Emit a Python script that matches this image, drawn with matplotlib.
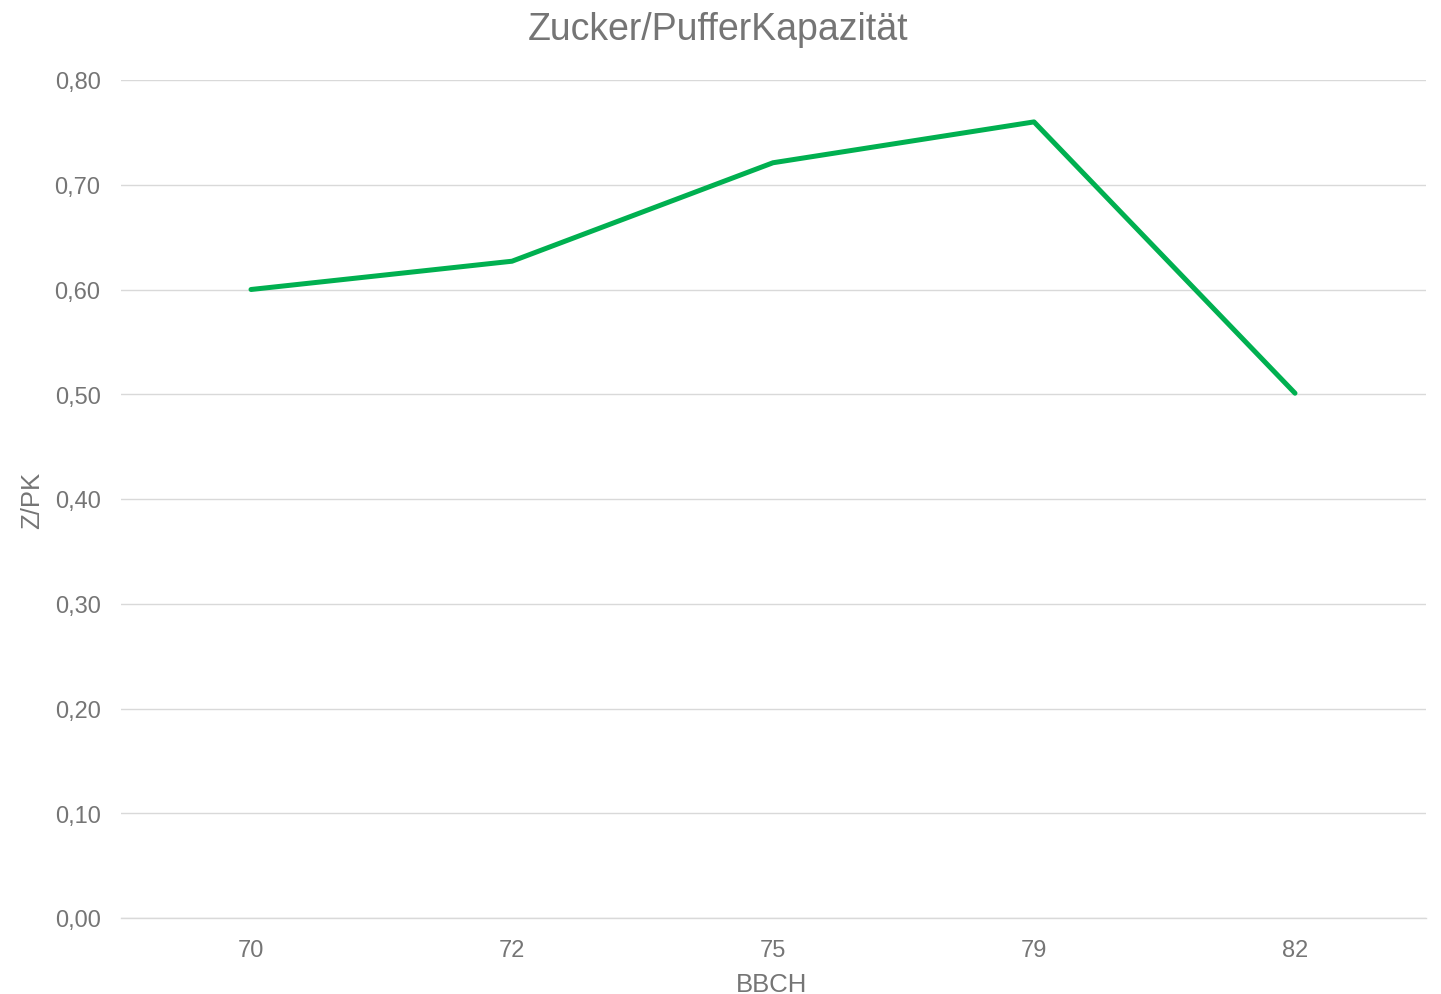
import matplotlib
matplotlib.use("Agg")
import matplotlib.pyplot as plt
from matplotlib.ticker import FuncFormatter

categories = ["70", "72", "75", "79", "82"]
values = [0.60, 0.627, 0.721, 0.760, 0.501]
yticks = [0.0, 0.1, 0.2, 0.3, 0.4, 0.5, 0.6, 0.7, 0.8]

plt.rcParams['font.family'] = ['Liberation Sans', 'DejaVu Sans']
gray = '#757575'

fig = plt.figure(figsize=(14.41, 9.95), dpi=100)
ax = fig.add_axes([120.5/1441, 1-919/995, (1425.5-120.5)/1441, (919-81)/995])

x = list(range(len(categories)))
ax.plot(x, values, color='#00B050', linewidth=3.6, solid_capstyle='round', solid_joinstyle='round', zorder=3)

ax.set_xlim(-0.5, len(categories)-0.5)
ax.set_ylim(0, 0.8)
ax.set_yticks(yticks)
ax.yaxis.set_major_formatter(FuncFormatter(lambda v, p: f"{v:.2f}".replace('.', ',')))
ax.set_xticks(x)
ax.set_xticklabels(categories)
ax.grid(axis='y', color='#D9D9D9', linewidth=1.0)
ax.set_axisbelow(True)
for s in ['top', 'right', 'left']:
    ax.spines[s].set_visible(False)
ax.spines['bottom'].set_color('#D9D9D9')
ax.spines['bottom'].set_linewidth(1.0)
ax.tick_params(axis='both', length=0, colors=gray, labelsize=17)
ax.tick_params(axis='x', pad=15)
ax.tick_params(axis='y', pad=14.4)
for lbl in ax.get_yticklabels():
    lbl.set_y(lbl.get_position()[1])

fig.text(0.498, 1-30/995, "Zucker/PufferKapazität", color=gray, fontsize=27, ha='center', va='center')
fig.text(772/1441, 1-985/995, "BBCH", color=gray, fontsize=18.5, ha='center', va='center')
fig.text(32/1441, 1-500/995, "Z/PK", color=gray, fontsize=18.5, ha='center', va='center', rotation=90)

fig.savefig("out.png", dpi=100)
